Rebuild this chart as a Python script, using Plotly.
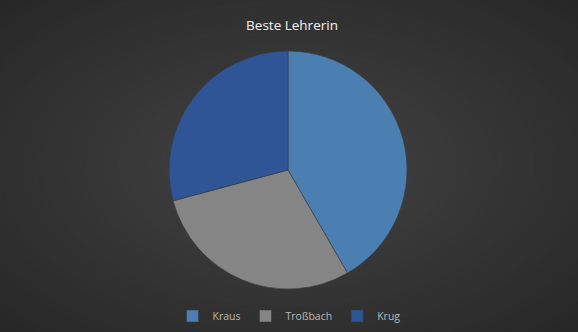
import plotly.graph_objects as go

labels = ["Kraus", "Troßbach", "Krug"]
values = [10, 7, 7]
colors = ["#4c7fb1", "#858585", "#2f5597"]

W, H = 578, 332
cx, cy, r = 288, 170, 119

fig = go.Figure()
fig.add_trace(go.Pie(
    labels=labels, values=values, sort=False, direction="clockwise", rotation=0,
    marker=dict(colors=colors, line=dict(color="#3a3a3a", width=0.6)),
    textinfo="none", hoverinfo="label+value+percent",
    domain=dict(x=[(cx - r) / W, (cx + r) / W], y=[(H - cy - r) / H, (H - cy + r) / H]),
))

# radial background gradient
shapes = []
n = 40
c0 = (0x43, 0x43, 0x43)
c1 = (0x26, 0x26, 0x26)
for i in range(n):
    t = 1 - i / (n - 1)
    col = tuple(round(c0[k] + (c1[k] - c0[k]) * t) for k in range(3))
    f = 0.72 * t + 0.02
    shapes.append(dict(type="circle", xref="paper", yref="paper",
                       x0=0.5 - f, x1=0.5 + f, y0=0.5 - f, y1=0.5 + f,
                       fillcolor="rgb(%d,%d,%d)" % col, line=dict(width=0), layer="below"))

fig.update_layout(
    width=W, height=H,
    margin=dict(l=0, r=0, t=0, b=0),
    paper_bgcolor="#262626",
    shapes=shapes,
    title=dict(text="Beste Lehrerin", x=292 / W, xanchor="center", y=1 - 25 / H, yanchor="middle",
               font=dict(family="Open Sans", size=13.5, color="#f2f2f2")),
    showlegend=True,
    legend=dict(orientation="h", x=0.5, xanchor="center", y=(H - 316) / H, yanchor="middle",
                font=dict(family="Open Sans", size=10.5, color="#b8b8b8"),
                itemwidth=30, bgcolor="rgba(0,0,0,0)"),
)
fig.write_html("out.html")
